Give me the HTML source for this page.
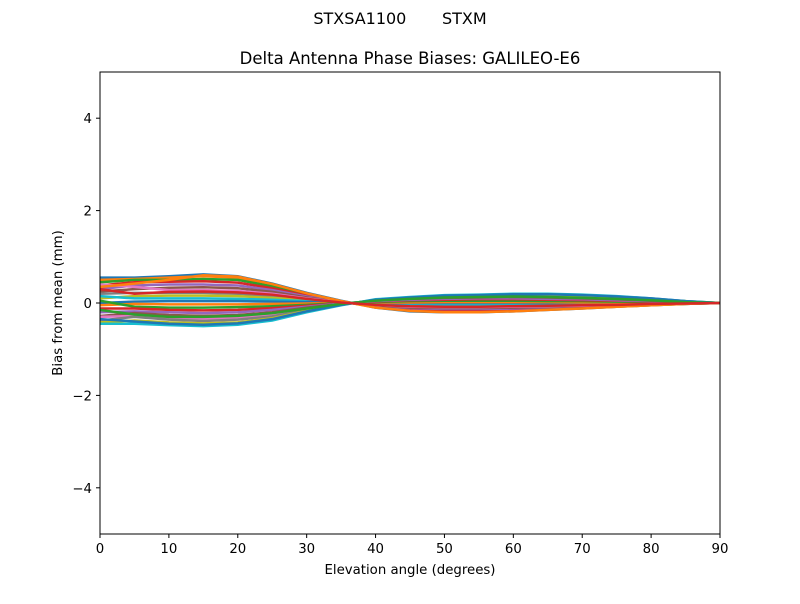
<!DOCTYPE html>
<html><head><meta charset="utf-8"><style>
body{margin:0;background:#fff;font-family:"DejaVu Sans","Liberation Sans",sans-serif;}
svg text{font-family:"DejaVu Sans","Liberation Sans",sans-serif;white-space:pre;}
</style></head><body>
<svg id="c" width="800" height="600" xmlns="http://www.w3.org/2000/svg">
<rect width="800" height="600" fill="#fff"/>
<text x="400" y="24" font-size="16" text-anchor="middle" xml:space="preserve">STXSA1100       STXM</text>
<text x="410" y="64" font-size="16.5" text-anchor="middle">Delta Antenna Phase Biases: GALILEO-E6</text>
<g id="lines"></g>
<rect x="100" y="72" width="620" height="462" fill="none" stroke="#000" stroke-width="1"/>
<g id="ax"></g>
<text x="410" y="574" font-size="13.3" text-anchor="middle">Elevation angle (degrees)</text>
<text transform="translate(62,303) rotate(-90)" font-size="13.3" text-anchor="middle">Bias from mean (mm)</text>
</svg>
<script>
const elev=[0,5,10,15,20,25,30,35,40,45,50,55,60,65,70,75,80,85,90];
const xTicks=[0,10,20,30,40,50,60,70,80,90];
const yTicks=[-4,-2,0,2,4];
const s01=[0.55,0.55,0.58,0.62,0.58,0.42,0.22,0.05,-0.1,-0.18,-0.2,-0.2,-0.18,-0.15,-0.12,-0.08,-0.05,-0.02,0];
const s02=[0.5,0.52,0.55,0.58,0.55,0.4,0.2,0.04,-0.09,-0.16,-0.19,-0.19,-0.17,-0.14,-0.11,-0.08,-0.05,-0.02,0];
const s03=[0.45,0.5,0.5,0.52,0.5,0.36,0.18,0.03,-0.08,-0.15,-0.17,-0.17,-0.15,-0.13,-0.1,-0.07,-0.04,-0.02,0];
const s04=[0.38,0.45,0.46,0.47,0.44,0.32,0.16,0.03,-0.07,-0.13,-0.15,-0.15,-0.14,-0.12,-0.09,-0.06,-0.04,-0.01,0];
const s05=[0.3,0.38,0.4,0.4,0.38,0.28,0.14,0.02,-0.06,-0.11,-0.13,-0.13,-0.12,-0.1,-0.08,-0.05,-0.03,-0.01,0];
const s06=[0.25,0.3,0.33,0.34,0.32,0.24,0.12,0.02,-0.05,-0.1,-0.11,-0.11,-0.1,-0.09,-0.07,-0.05,-0.03,-0.01,0];
const s07=[0.4,0.35,0.28,0.28,0.26,0.2,0.1,0.02,-0.04,-0.08,-0.09,-0.09,-0.08,-0.07,-0.06,-0.04,-0.02,-0.01,0];
const s08=[0.2,0.22,0.22,0.22,0.2,0.15,0.08,0.01,-0.03,-0.06,-0.07,-0.07,-0.06,-0.05,-0.04,-0.03,-0.02,0,0];
const s09=[0.1,0.15,0.16,0.16,0.15,0.11,0.06,0.01,-0.02,-0.04,-0.05,-0.05,-0.04,-0.04,-0.03,-0.02,-0.01,0,0];
const s10=[0.15,0.1,0.1,0.1,0.09,0.07,0.04,0,-0.01,-0.02,-0.03,-0.03,-0.02,-0.02,-0.02,-0.01,-0.01,0,0];
const s11=[0.0,0.03,0.04,0.04,0.04,0.03,0.02,0,0,0,0,0,0,0,0,0,0,0,0];
const s12=[-0.05,-0.02,-0.03,-0.03,-0.03,-0.02,-0.01,0,0.01,0.01,0.02,0.02,0.02,0.02,0.01,0.01,0,0,0];
const s13=[0.05,-0.08,-0.1,-0.1,-0.09,-0.07,-0.04,0,0.02,0.04,0.05,0.05,0.05,0.04,0.04,0.03,0.02,0.01,0];
const s14=[-0.12,-0.12,-0.15,-0.16,-0.15,-0.11,-0.06,-0.01,0.03,0.06,0.07,0.08,0.08,0.07,0.06,0.05,0.03,0.01,0];
const s15=[-0.2,-0.18,-0.2,-0.22,-0.2,-0.15,-0.08,-0.01,0.04,0.07,0.09,0.1,0.1,0.09,0.08,0.06,0.04,0.02,0];
const s16=[-0.28,-0.22,-0.26,-0.28,-0.26,-0.2,-0.1,-0.02,0.05,0.09,0.11,0.12,0.13,0.12,0.1,0.08,0.05,0.02,0];
const s17=[-0.3,-0.28,-0.32,-0.34,-0.32,-0.25,-0.13,-0.02,0.05,0.1,0.13,0.14,0.15,0.14,0.12,0.1,0.07,0.03,0];
const s18=[-0.38,-0.3,-0.36,-0.39,-0.36,-0.29,-0.15,-0.03,0.06,0.11,0.15,0.16,0.17,0.16,0.14,0.11,0.08,0.03,0];
const s19=[-0.42,-0.38,-0.42,-0.44,-0.42,-0.33,-0.17,-0.04,0.07,0.12,0.16,0.17,0.19,0.18,0.16,0.13,0.09,0.04,0];
const s20=[-0.45,-0.45,-0.48,-0.5,-0.47,-0.38,-0.2,-0.05,0.08,0.13,0.17,0.18,0.2,0.2,0.18,0.15,0.1,0.04,0];
const s21=[-0.35,-0.4,-0.45,-0.47,-0.44,-0.35,-0.18,-0.04,0.07,0.12,0.16,0.17,0.19,0.19,0.17,0.14,0.1,0.04,0];
const s22=[0.35,0.42,0.5,0.6,0.57,0.41,0.21,0.04,-0.1,-0.17,-0.2,-0.2,-0.18,-0.15,-0.12,-0.08,-0.05,-0.02,0];
const s23=[-0.15,-0.25,-0.3,-0.3,-0.28,-0.22,-0.12,-0.02,0.05,0.09,0.12,0.13,0.14,0.13,0.11,0.09,0.06,0.02,0];
const s24=[0.3,0.2,0.24,0.25,0.23,0.18,0.09,0.01,-0.04,-0.07,-0.08,-0.08,-0.07,-0.06,-0.05,-0.04,-0.02,-0.01,0];
const series=[s01,s02,s03,s04,s05,s06,s07,s08,s09,s10,s11,s12,s13,s14,s15,s16,s17,s18,s19,s20,s21,s22,s23,s24];
const colors=['#1f77b4','#ff7f0e','#2ca02c','#d62728','#9467bd','#8c564b','#e377c2','#7f7f7f','#bcbd22','#17becf'];
const X=v=>100+v/90*620, Y=v=>303-v*46.2;
const NS='http://www.w3.org/2000/svg';
const lg=document.getElementById('lines');
series.forEach((s,i)=>{
  const p=document.createElementNS(NS,'polyline');
  p.setAttribute('points',s.map((v,j)=>X(elev[j])+','+Y(v)).join(' '));
  p.setAttribute('fill','none');p.setAttribute('stroke',colors[i%10]);p.setAttribute('stroke-width','2.5');
  
  
  lg.appendChild(p);
});
const ax=document.getElementById('ax');
xTicks.forEach(t=>{
  const l=document.createElementNS(NS,'line');
  l.setAttribute('x1',X(t));l.setAttribute('x2',X(t));l.setAttribute('y1',534);l.setAttribute('y2',538);l.setAttribute('stroke','#000');
  
  
  ax.appendChild(l);
  const tx=document.createElementNS(NS,'text');
  tx.setAttribute('x',X(t));tx.setAttribute('y',553);tx.setAttribute('font-size','13.3');tx.setAttribute('text-anchor','middle');tx.textContent=t;
  
  
  ax.appendChild(tx);
});
yTicks.forEach(t=>{
  const l=document.createElementNS(NS,'line');
  l.setAttribute('x1',96);l.setAttribute('x2',100);l.setAttribute('y1',Y(t));l.setAttribute('y2',Y(t));l.setAttribute('stroke','#000');
  
  
  ax.appendChild(l);
  const tx=document.createElementNS(NS,'text');
  tx.setAttribute('x',92);tx.setAttribute('y',Y(t)+5);tx.setAttribute('font-size','13.3');tx.setAttribute('text-anchor','end');tx.textContent=t<0?'\u2212'+(-t):t;
  
  
  ax.appendChild(tx);
});
</script>
</body></html>
